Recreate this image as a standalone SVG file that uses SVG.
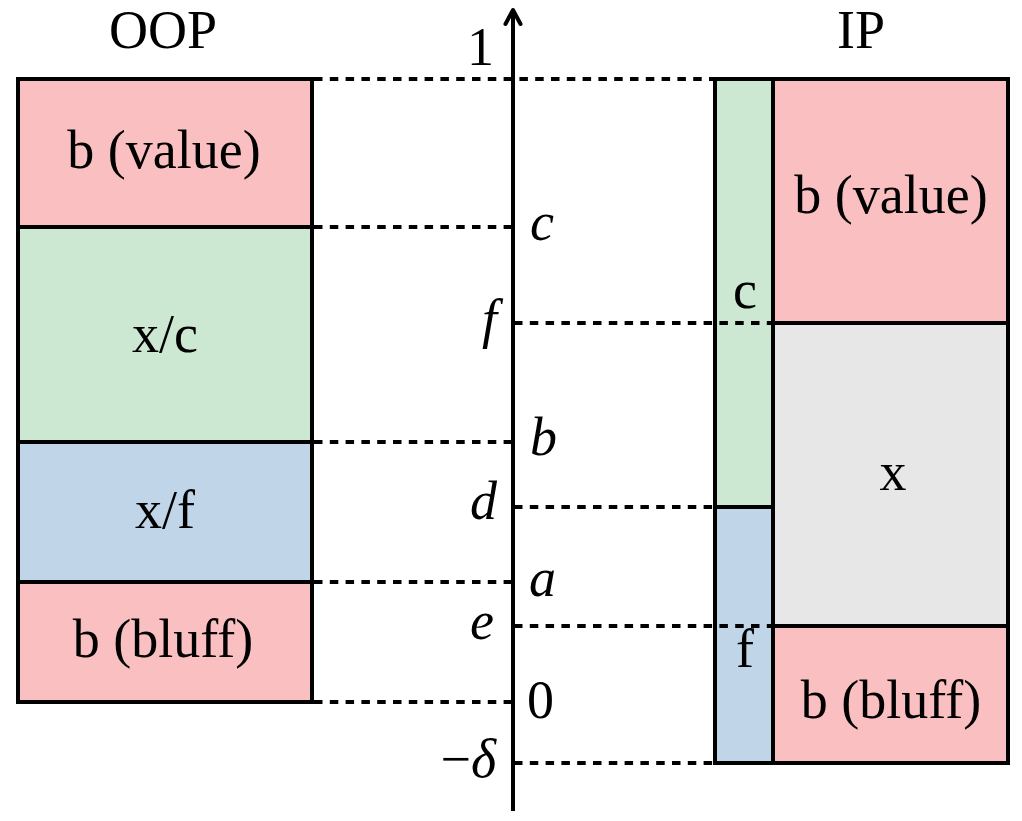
<svg xmlns="http://www.w3.org/2000/svg" width="1022" height="821" viewBox="0 0 1022 821">
<style>
.box{stroke:#000;stroke-width:4}
.pink{fill:#F9BFC1}
.green{fill:#CCE8D2}
.blue{fill:#C1D5E8}
.gray{fill:#E7E7E7}
.dash{stroke:#000;stroke-width:4;stroke-dasharray:8.5 7.3;fill:none}
.solid{stroke:#000;stroke-width:4;fill:none}
text{font-family:"Liberation Serif","Times New Roman",serif;font-size:54px;fill:#000}
.c{text-anchor:middle}
.m{font-style:italic}
.r{text-anchor:end}
</style>
<rect width="1022" height="821" fill="#fff"/>

<g id="oop-title"><text class="c" x="163" y="48">OOP</text></g>
<g id="ip-title"><text class="c" x="861" y="48">IP</text></g>

<g id="oop-value"><rect class="box pink" x="18" y="79" width="294" height="148"/><text class="c" x="164" y="168">b (value)</text></g>
<g id="oop-xc"><rect class="box green" x="18" y="227" width="294" height="215"/><text class="c" x="165" y="352">x/c</text></g>
<g id="oop-xf"><rect class="box blue" x="18" y="442" width="294" height="140"/><text class="c" x="165" y="528">x/f</text></g>
<g id="oop-bluff"><rect class="box pink" x="18" y="582" width="294" height="120"/><text class="c" x="163" y="657">b (bluff)</text></g>

<g id="ip-c"><rect class="box green" x="715" y="79" width="58" height="428"/><text class="c" x="745" y="308">c</text></g>
<g id="ip-f"><rect class="box blue" x="715" y="507" width="58" height="256"/><text class="c" x="745" y="667">f</text></g>
<g id="ip-value"><rect class="box pink" x="773" y="79" width="235" height="244"/><text class="c" x="891" y="213">b (value)</text></g>
<g id="ip-x"><rect class="box gray" x="773" y="323" width="235" height="303"/><text class="c" x="893" y="490">x</text></g>
<g id="ip-bluff"><rect class="box pink" x="773" y="626" width="235" height="137"/><text class="c" x="891" y="718">b (bluff)</text></g>

<g id="connectors">
<line class="dash" x1="314" y1="79" x2="713" y2="79"/>
<line class="dash" x1="314" y1="227" x2="513" y2="227"/>
<line class="dash" x1="514" y1="323" x2="773" y2="323"/>
<line class="dash" x1="314" y1="442" x2="513" y2="442"/>
<line class="dash" x1="514" y1="507" x2="714" y2="507"/>
<line class="dash" x1="314" y1="582" x2="513" y2="582"/>
<line class="dash" x1="514" y1="626" x2="773" y2="626"/>
<line class="dash" x1="314" y1="702" x2="513" y2="702"/>
<line class="dash" x1="514" y1="763" x2="714" y2="763"/>
<line class="solid" x1="513" y1="811" x2="513" y2="11"/>
<path class="solid" d="M505.5,24 L513,10 L520.5,24" stroke-linecap="round" stroke-linejoin="round"/>
</g>

<g id="axis-labels">
<text class="r" x="494" y="65">1</text>
<text class="m" x="530" y="240">c</text>
<text class="m r" x="497" y="337">f</text>
<text class="m" x="530" y="455">b</text>
<text class="m r" x="497" y="519">d</text>
<text class="m" x="529" y="596">a</text>
<text class="m r" x="494" y="639">e</text>
<text x="527" y="718">0</text>
<text class="r" x="496" y="777">−<tspan class="m">δ</tspan></text>
</g>
</svg>
